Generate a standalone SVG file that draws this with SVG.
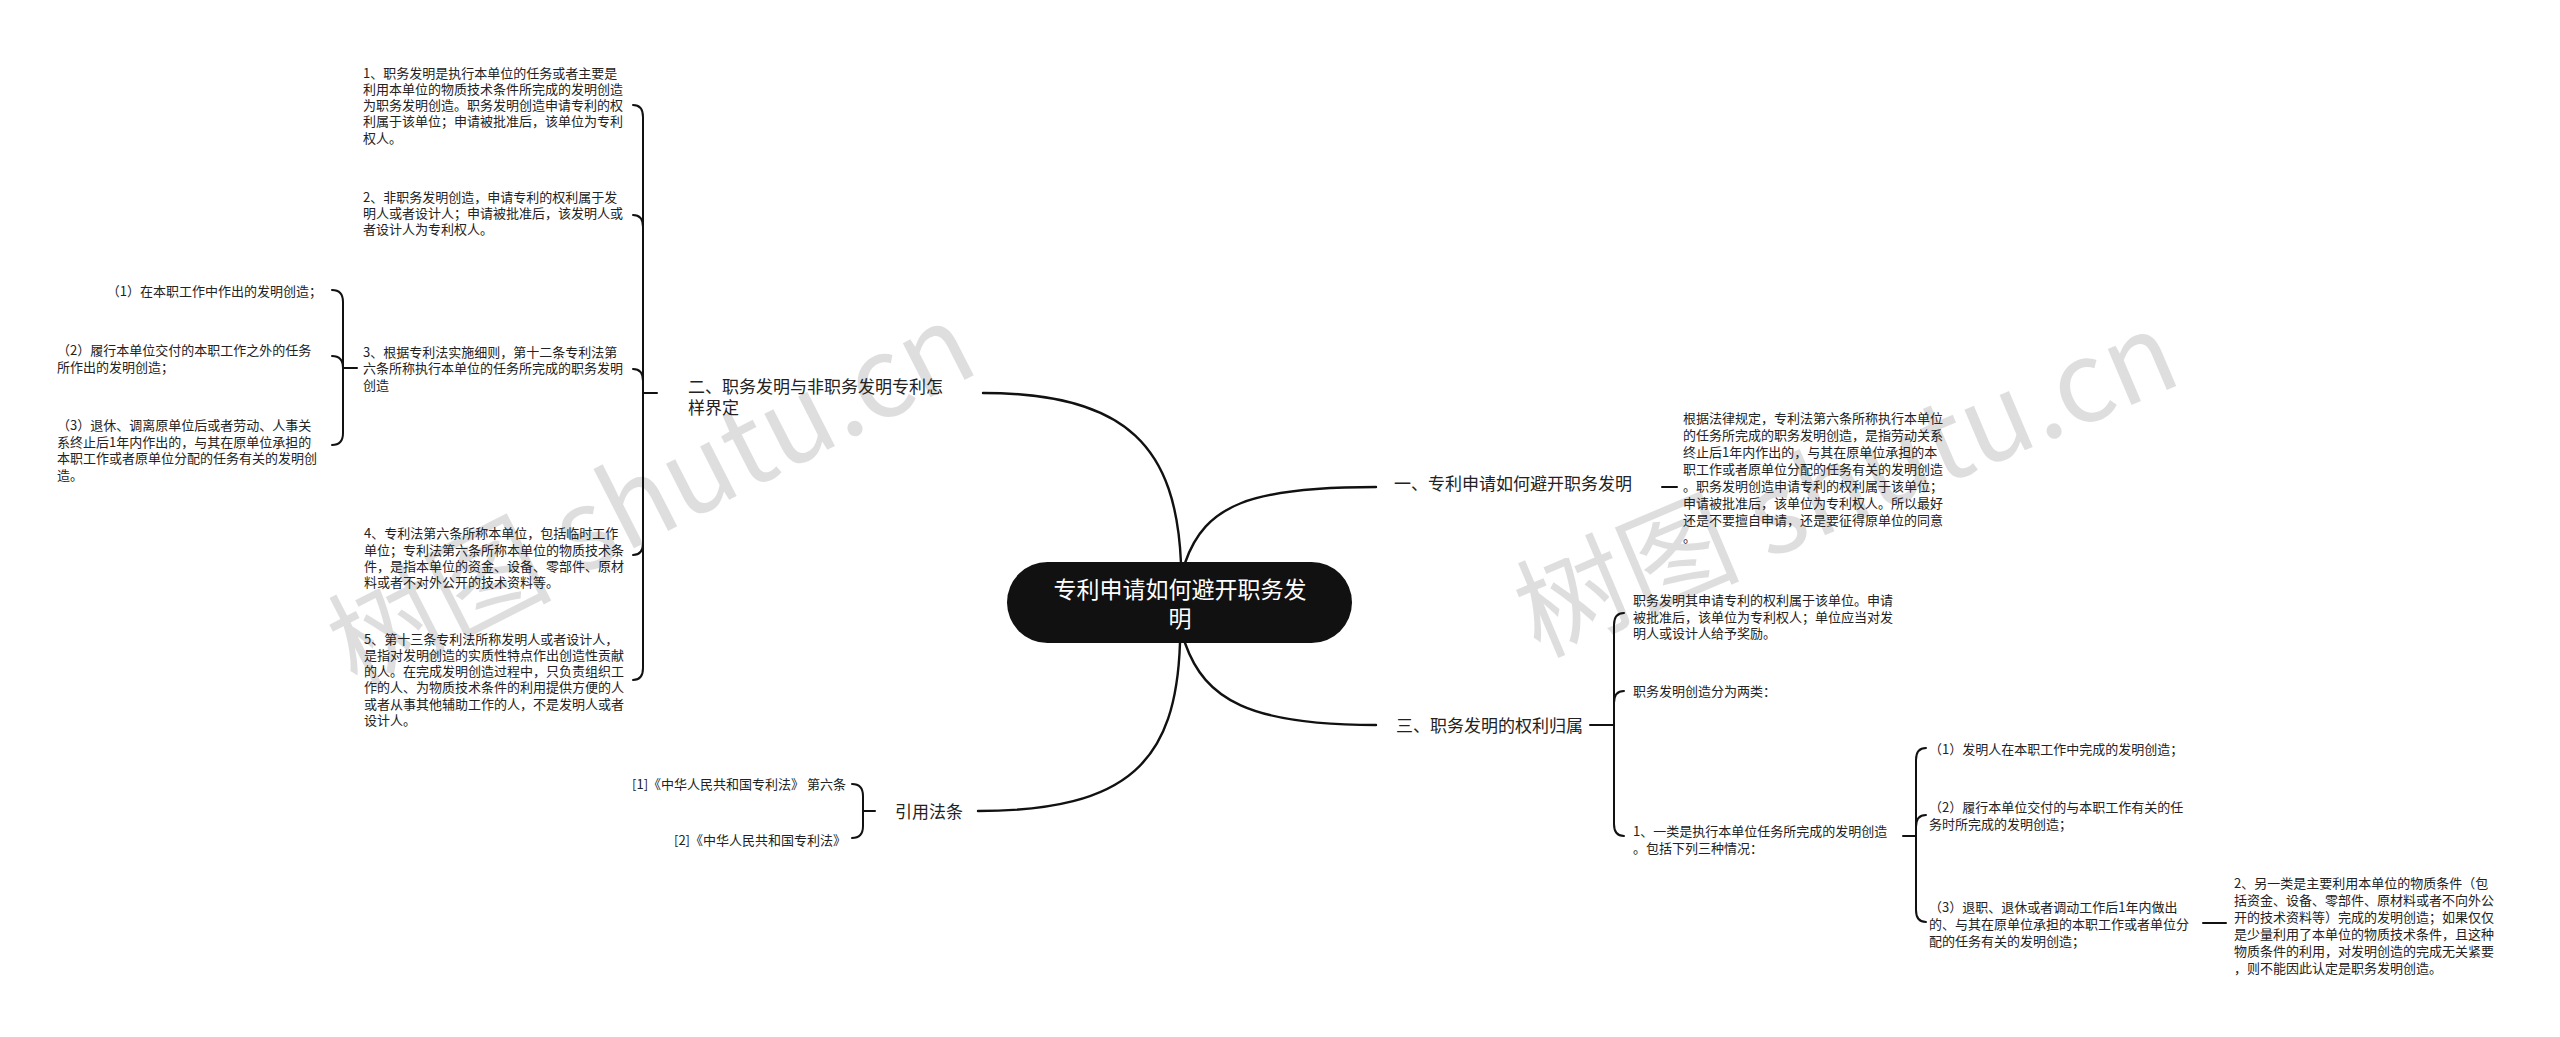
<svg xmlns="http://www.w3.org/2000/svg" width="2560" height="1037" viewBox="0 0 2560 1037">
<style>
text { font-family: "Noto Sans CJK SC", "Noto Sans", sans-serif; }
.t13 { font-size: 13px; fill: #222; }
.t17 { font-size: 17px; fill: #222; }
.root { font-size: 23px; fill: #fff; }
.wm { font-size: 112px; fill: #000; fill-opacity: 0.13; }
.c { fill: none; stroke: #111; stroke-width: 2; stroke-linecap: round; stroke-linejoin: round; }
.cr { fill: none; stroke: #111; stroke-width: 2.4; stroke-linecap: round; }
</style>
<rect width="2560" height="1037" fill="#fff"/>
<g id="watermarks">
<text class="wm" transform="translate(356 690) rotate(-27)">树图 shutu.cn</text>
<text class="wm" transform="translate(1538 657) rotate(-23)">树图 shutu.cn</text>
</g>
<g id="connectors">
<path class="cr" d="M1181 563 C1176 450 1130 393 983 393"/>
<path class="cr" d="M1185 563 C1205 505 1250 487 1376 487"/>
<path class="cr" d="M1185 643 C1205 700 1250 725 1376 725"/>
<path class="cr" d="M1180 643 C1176 760 1130 811 978 811"/>
<path class="c" d="M657 393 L643 393"/>
<path class="c" d="M643 393 L643 117 Q643 105 633 105"/>
<path class="c" d="M643 393 L643 227 Q643 215 633 215"/>
<path class="c" d="M643 393 L643 381 Q643 369 633 369"/>
<path class="c" d="M643 393 L643 543 Q643 555 633 555"/>
<path class="c" d="M643 393 L643 668 Q643 680 633 680"/>
<path class="c" d="M357 368 L343 368"/>
<path class="c" d="M343 368 L343 302 Q343 290 332 290"/>
<path class="c" d="M343 368 Q343 356 332 356"/>
<path class="c" d="M343 368 L343 433 Q343 445 332 445"/>
<path class="c" d="M875 811 L863 811"/>
<path class="c" d="M863 811 L863 796 Q863 784 852 784"/>
<path class="c" d="M863 811 L863 826 Q863 838 852 838"/>
<path class="c" d="M1662 487 L1677 487"/>
<path class="c" d="M1590 725 L1614 725"/>
<path class="c" d="M1614 725 L1614 625 Q1614 613 1624 613"/>
<path class="c" d="M1614 725 L1614 703 Q1614 691 1624 691"/>
<path class="c" d="M1614 725 L1614 824 Q1614 836 1624 836"/>
<path class="c" d="M1903 836 L1916 836"/>
<path class="c" d="M1916 836 L1916 760 Q1916 748 1926 748"/>
<path class="c" d="M1916 836 L1916 827 Q1916 815 1926 815"/>
<path class="c" d="M1916 836 L1916 910 Q1916 922 1926 922"/>
<path class="c" d="M2203 923 L2226 923"/>
</g>
<g id="root">
<rect x="1007" y="562" width="345" height="81" rx="40.5" fill="#111"/>
<text class="root" text-anchor="middle"><tspan x="1180" y="597.5">专利申请如何避开职务发</tspan><tspan x="1180" y="626.5">明</tspan></text>
</g>
<g id="n-er">
<text class="t17"><tspan x="688" y="393">二、职务发明与非职务发明专利怎</tspan><tspan x="688" y="414">样界定</tspan></text>
</g>
<g id="n-a1">
<text class="t13"><tspan x="363" y="77.5">1、职务发明是执行本单位的任务或者主要是</tspan><tspan x="363" y="93.8">利用本单位的物质技术条件所完成的发明创造</tspan><tspan x="363" y="110.1">为职务发明创造。职务发明创造申请专利的权</tspan><tspan x="363" y="126.4">利属于该单位；申请被批准后，该单位为专利</tspan><tspan x="363" y="142.7">权人。</tspan></text>
</g>
<g id="n-a2">
<text class="t13"><tspan x="363" y="201.5">2、非职务发明创造，申请专利的权利属于发</tspan><tspan x="363" y="217.8">明人或者设计人；申请被批准后，该发明人或</tspan><tspan x="363" y="234.1">者设计人为专利权人。</tspan></text>
</g>
<g id="n-a3">
<text class="t13"><tspan x="363" y="356.5">3、根据专利法实施细则，第十二条专利法第</tspan><tspan x="363" y="373">六条所称执行本单位的任务所完成的职务发明</tspan><tspan x="363" y="389.5">创造</tspan></text>
</g>
<g id="n-b1">
<text class="t13" text-anchor="end" x="322" y="295.7">（1）在本职工作中作出的发明创造；</text>
</g>
<g id="n-b2">
<text class="t13"><tspan x="57" y="355">（2）履行本单位交付的本职工作之外的任务</tspan><tspan x="57" y="371.5">所作出的发明创造；</tspan></text>
</g>
<g id="n-b3">
<text class="t13"><tspan x="57" y="430">（3）退休、调离原单位后或者劳动、人事关</tspan><tspan x="57" y="446.5">系终止后1年内作出的，与其在原单位承担的</tspan><tspan x="57" y="463">本职工作或者原单位分配的任务有关的发明创</tspan><tspan x="57" y="479.5">造。</tspan></text>
</g>
<g id="n-a4">
<text class="t13"><tspan x="364" y="538.3">4、专利法第六条所称本单位，包括临时工作</tspan><tspan x="364" y="554.6">单位；专利法第六条所称本单位的物质技术条</tspan><tspan x="364" y="570.9">件，是指本单位的资金、设备、零部件、原材</tspan><tspan x="364" y="587.2">料或者不对外公开的技术资料等。</tspan></text>
</g>
<g id="n-a5">
<text class="t13"><tspan x="364" y="643.5">5、第十三条专利法所称发明人或者设计人，</tspan><tspan x="364" y="659.8">是指对发明创造的实质性特点作出创造性贡献</tspan><tspan x="364" y="676.1">的人。在完成发明创造过程中，只负责组织工</tspan><tspan x="364" y="692.4">作的人、为物质技术条件的利用提供方便的人</tspan><tspan x="364" y="708.7">或者从事其他辅助工作的人，不是发明人或者</tspan><tspan x="364" y="725">设计人。</tspan></text>
</g>
<g id="n-yy">
<text class="t17" x="895" y="817.5">引用法条</text>
</g>
<g id="n-c1">
<text class="t13" text-anchor="end" x="846" y="789">[1]《中华人民共和国专利法》 第六条</text>
</g>
<g id="n-c2">
<text class="t13" text-anchor="end" x="846" y="845">[2]《中华人民共和国专利法》</text>
</g>
<g id="n-yi">
<text class="t17" x="1394" y="489.5">一、专利申请如何避开职务发明</text>
</g>
<g id="n-r1">
<text class="t13"><tspan x="1683" y="423">根据法律规定，专利法第六条所称执行本单位</tspan><tspan x="1683" y="440">的任务所完成的职务发明创造，是指劳动关系</tspan><tspan x="1683" y="457">终止后1年内作出的，与其在原单位承担的本</tspan><tspan x="1683" y="474">职工作或者原单位分配的任务有关的发明创造</tspan><tspan x="1683" y="491">。职务发明创造申请专利的权利属于该单位；</tspan><tspan x="1683" y="508">申请被批准后，该单位为专利权人。所以最好</tspan><tspan x="1683" y="525">还是不要擅自申请，还是要征得原单位的同意</tspan><tspan x="1683" y="542">。</tspan></text>
</g>
<g id="n-san">
<text class="t17" x="1396" y="731.5">三、职务发明的权利归属</text>
</g>
<g id="n-r3a">
<text class="t13"><tspan x="1633" y="605">职务发明其申请专利的权利属于该单位。申请</tspan><tspan x="1633" y="621.5">被批准后，该单位为专利权人；单位应当对发</tspan><tspan x="1633" y="638">明人或设计人给予奖励。</tspan></text>
</g>
<g id="n-r3b">
<text class="t13" x="1633" y="696">职务发明创造分为两类：</text>
</g>
<g id="n-r3c">
<text class="t13"><tspan x="1633" y="836">1、一类是执行本单位任务所完成的发明创造</tspan><tspan x="1633" y="852.5">。包括下列三种情况：</tspan></text>
</g>
<g id="n-d1">
<text class="t13" x="1929" y="754">（1）发明人在本职工作中完成的发明创造；</text>
</g>
<g id="n-d2">
<text class="t13"><tspan x="1929" y="812">（2）履行本单位交付的与本职工作有关的任</tspan><tspan x="1929" y="829">务时所完成的发明创造；</tspan></text>
</g>
<g id="n-d3">
<text class="t13"><tspan x="1929" y="912">（3）退职、退休或者调动工作后1年内做出</tspan><tspan x="1929" y="929">的、与其在原单位承担的本职工作或者单位分</tspan><tspan x="1929" y="945.5">配的任务有关的发明创造；</tspan></text>
</g>
<g id="n-e1">
<text class="t13"><tspan x="2234" y="887.5">2、另一类是主要利用本单位的物质条件（包</tspan><tspan x="2234" y="904.5">括资金、设备、零部件、原材料或者不向外公</tspan><tspan x="2234" y="921.5">开的技术资料等）完成的发明创造；如果仅仅</tspan><tspan x="2234" y="938.5">是少量利用了本单位的物质技术条件，且这种</tspan><tspan x="2234" y="955.5">物质条件的利用，对发明创造的完成无关紧要</tspan><tspan x="2234" y="972.5">，则不能因此认定是职务发明创造。</tspan></text>
</g>
</svg>
